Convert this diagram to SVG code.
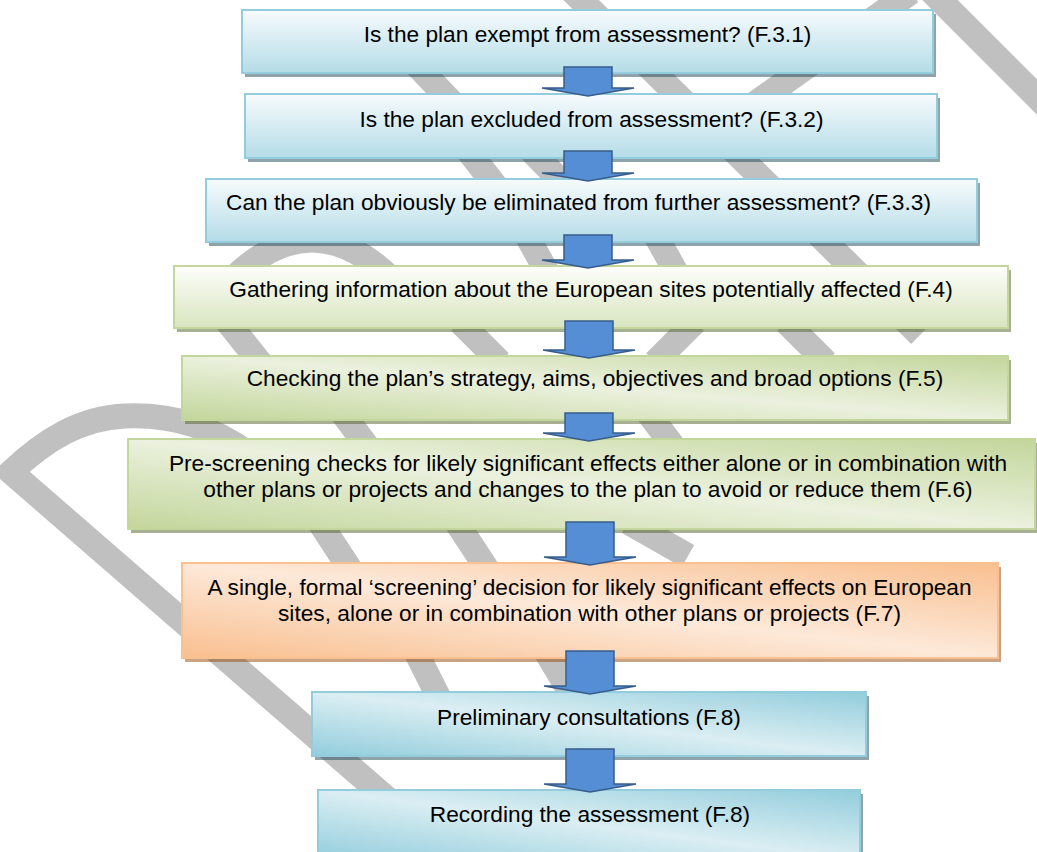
<svg xmlns="http://www.w3.org/2000/svg" width="1037" height="852" viewBox="0 0 1037 852">
  <defs>
    <linearGradient id="gBlueV" x1="0" y1="0" x2="0" y2="1">
      <stop offset="0" stop-color="#f7fbfd"/>
      <stop offset="1" stop-color="#b4dce7"/>
    </linearGradient>
    <linearGradient id="gGreenV" x1="0" y1="0" x2="0" y2="1">
      <stop offset="0" stop-color="#fdfefb"/>
      <stop offset="1" stop-color="#d8e5bf"/>
    </linearGradient>
    <linearGradient id="gGreenD" x1="0" y1="1" x2="1" y2="0">
      <stop offset="0" stop-color="#c3d69b"/>
      <stop offset="0.5" stop-color="#ebf1de"/>
      <stop offset="1" stop-color="#c3d69b"/>
    </linearGradient>
    <linearGradient id="gOrangeD" x1="0" y1="1" x2="1" y2="0">
      <stop offset="0" stop-color="#f9bf8f"/>
      <stop offset="0.5" stop-color="#fde9d9"/>
      <stop offset="1" stop-color="#f9bf8f"/>
    </linearGradient>
    <linearGradient id="gBlueD" x1="0" y1="1" x2="1" y2="0">
      <stop offset="0" stop-color="#92cddc"/>
      <stop offset="0.5" stop-color="#dbeef3"/>
      <stop offset="1" stop-color="#92cddc"/>
    </linearGradient>
  </defs>
  <style>
    .wm { fill: none; stroke: #c0c0c0; stroke-width: 25; stroke-linecap: butt; stroke-linejoin: miter; stroke-miterlimit: 10; }
    .shB { fill: rgb(31,73,85); fill-opacity: 0.5; }
    .shG { fill: rgb(79,98,40); fill-opacity: 0.5; }
    .shO { fill: rgb(150,70,10); fill-opacity: 0.5; }
    .bxB1 { fill: url(#gBlueV); stroke: #93cddd; stroke-width: 2; }
    .bxG1 { fill: url(#gGreenV); stroke: #c3d69b; stroke-width: 2; }
    .bxG2 { fill: url(#gGreenD); stroke: #c3d69b; stroke-width: 2; }
    .bxO { fill: url(#gOrangeD); stroke: #fac090; stroke-width: 2; }
    .bxB2 { fill: url(#gBlueD); stroke: #93cddd; stroke-width: 2; }
    .t { font-family: "Liberation Sans", Arial, sans-serif; font-size: 22.7px; fill: #000; text-anchor: middle; }
    .arr { fill: #558ed5; stroke: #385d8a; stroke-width: 1.5; stroke-linejoin: miter; }
  </style>

  <g id="watermark">
    <line class="wm" x1="925" y1="-15" x2="1060" y2="120"/>
    <line class="wm" x1="566" y1="-15" x2="920" y2="335"/>
    <line class="wm" x1="718" y1="130" x2="911" y2="-8"/>
    <line class="wm" x1="407" y1="55" x2="461" y2="112"/>
    <line class="wm" x1="460" y1="140" x2="504" y2="197"/>
    <line class="wm" x1="521" y1="140" x2="576" y2="197"/>
    <path class="wm" d="M 222,290 Q 312,190 402,290"/>
    <line class="wm" x1="527" y1="236" x2="547" y2="272"/>
    <line class="wm" x1="656" y1="236" x2="676" y2="272"/>
    <line class="wm" x1="222" y1="315" x2="262" y2="365"/>
    <line class="wm" x1="460" y1="322" x2="500" y2="362"/>
    <line class="wm" x1="695" y1="322" x2="655" y2="362"/>
    <line class="wm" x1="786" y1="322" x2="826" y2="362"/>
    <path class="wm" d="M 255,458 C 215,428 175,414 125,416 C 80,418 45,440 11,472 L 430,836"/>
    <line class="wm" x1="340" y1="410" x2="370" y2="450"/>
    <line class="wm" x1="646" y1="410" x2="676" y2="450"/>
    <line class="wm" x1="318" y1="520" x2="352" y2="572"/>
    <line class="wm" x1="455" y1="520" x2="489" y2="572"/>
    <line class="wm" x1="628" y1="522" x2="688" y2="556"/>
    <line class="wm" x1="415" y1="650" x2="440" y2="700"/>
    <line class="wm" x1="545" y1="650" x2="575" y2="700"/>
  </g>

  <g id="node-1">
    <rect class="shB" x="245" y="14" width="691" height="63"/>
    <rect class="bxB1" x="242" y="10" width="691" height="63"/>
    <text class="t" x="587.5" y="42">Is the plan exempt from assessment? (F.3.1)</text>
  </g>
  <g id="node-2">
    <rect class="shB" x="248" y="98" width="692" height="64"/>
    <rect class="bxB1" x="245" y="94" width="692" height="64"/>
    <text class="t" x="591.5" y="126.5">Is the plan excluded from assessment? (F.3.2)</text>
  </g>
  <g id="node-3">
    <rect class="shB" x="209" y="183" width="771" height="63"/>
    <rect class="bxB1" x="206" y="179" width="771" height="63"/>
    <text class="t" x="578.5" y="210">Can the plan obviously be eliminated from further assessment? (F.3.3)</text>
  </g>
  <g id="node-4">
    <rect class="shG" x="177" y="270" width="834" height="62"/>
    <rect class="bxG1" x="174" y="266" width="834" height="62"/>
    <text class="t" x="591" y="296.5">Gathering information about the European sites potentially affected (F.4)</text>
  </g>
  <g id="node-5">
    <rect class="shG" x="185" y="360" width="826" height="64"/>
    <rect class="bxG2" x="182" y="356" width="826" height="64"/>
    <text class="t" x="595" y="386">Checking the plan’s strategy, aims, objectives and broad options (F.5)</text>
  </g>
  <g id="node-6">
    <rect class="shG" x="131" y="443" width="906" height="90"/>
    <rect class="bxG2" x="128" y="439" width="907" height="90"/>
    <text class="t" x="588" y="471">Pre-screening checks for likely significant effects either alone or in combination with</text>
    <text class="t" x="588" y="497">other plans or projects and changes to the plan to avoid or reduce them (F.6)</text>
  </g>
  <g id="node-7">
    <rect class="shO" x="185" y="567" width="816" height="95"/>
    <rect class="bxO" x="182" y="563" width="816" height="95"/>
    <text class="t" x="589.5" y="595">A single, formal ‘screening’ decision for likely significant effects on European</text>
    <text class="t" x="589.5" y="621">sites, alone or in combination with other plans or projects (F.7)</text>
  </g>
  <g id="node-8">
    <rect class="shB" x="315" y="696" width="554" height="64"/>
    <rect class="bxB2" x="312" y="692" width="554" height="64"/>
    <text class="t" x="589" y="725">Preliminary consultations (F.8)</text>
  </g>
  <g id="node-9">
    <rect class="shB" x="321" y="794" width="542" height="70"/>
    <rect class="bxB2" x="318" y="790" width="542" height="70"/>
    <text class="t" x="590" y="822">Recording the assessment (F.8)</text>
  </g>

  <g id="connectors">
    <polygon class="arr" points="564,67 612,67 612,88 634,88 588,96 542,88 564,88"/>
    <polygon class="arr" points="564,151 612,151 612,173 634,173 588,181 542,173 564,173"/>
    <polygon class="arr" points="564,235 612,235 612,260 634,260 588,268 542,260 564,260"/>
    <polygon class="arr" points="565,321 613,321 613,350 635,350 589,358 543,350 565,350"/>
    <polygon class="arr" points="565,413 613,413 613,433 635,433 589,441 543,433 565,433"/>
    <polygon class="arr" points="566,522 614,522 614,557 636,557 590,565 544,557 566,557"/>
    <polygon class="arr" points="566,651 614,651 614,686 636,686 590,694 544,686 566,686"/>
    <polygon class="arr" points="566,749 614,749 614,784 636,784 590,792 544,784 566,784"/>
  </g>
</svg>
